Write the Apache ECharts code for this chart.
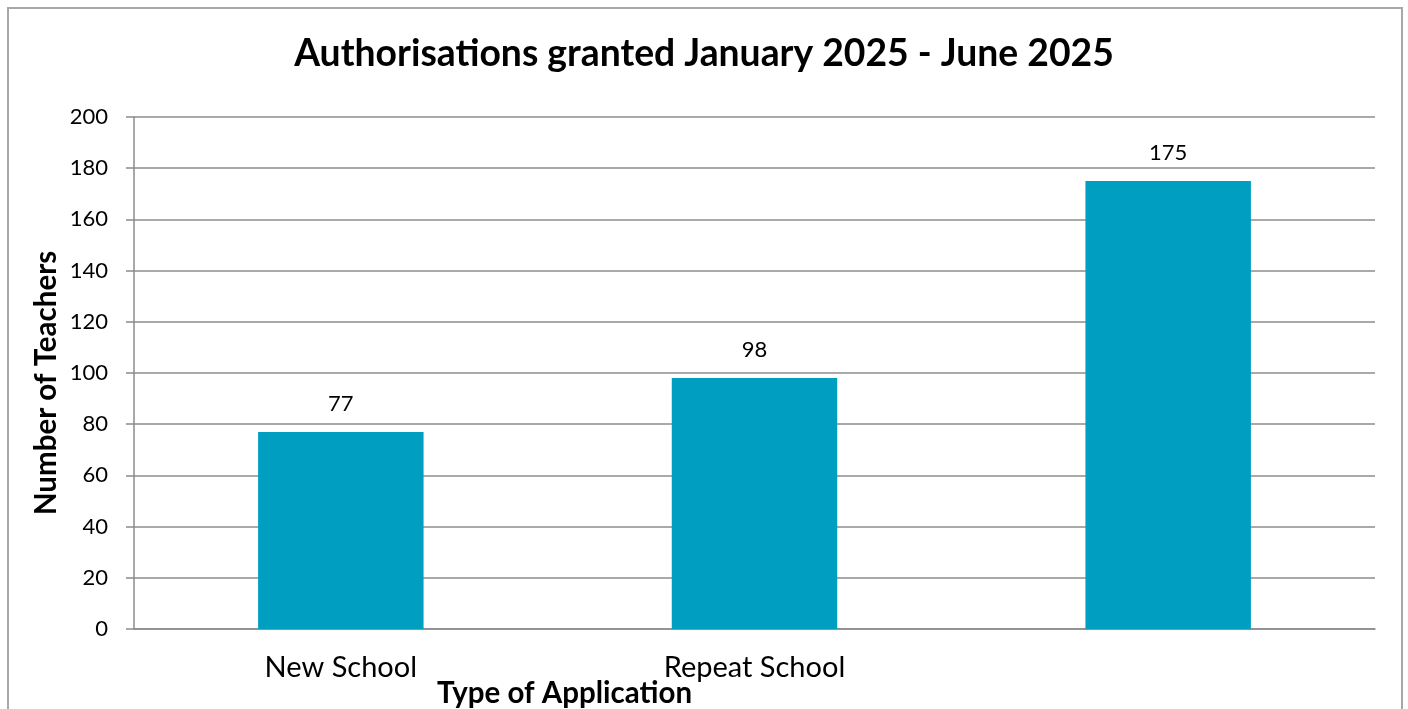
<!DOCTYPE html>
<html>
<head>
<meta charset="utf-8">
<script src="https://cdn.jsdelivr.net/npm/echarts@6/dist/echarts.min.js"></script>
<style>
  html, body { margin: 0; padding: 0; background: #fff; }
  #chart { width: 1408px; height: 709px; }
</style>
</head>
<body>
<div id="chart"></div>
<script>
// Application types and number of teachers authorised
const categories = ['New School', 'Repeat School', ''];
const teachers = [77, 98, 175];
const yTicks = { min: 0, max: 200, interval: 20 };

const FONT = 'Lato, "Open Sans", sans-serif';
const chart = echarts.init(document.getElementById('chart'));

chart.setOption({
  backgroundColor: '#ffffff',
  animation: false,
  title: [
    {
      text: 'Authorisations granted January 2025 - June 2025',
      left: 'center',
      top: 30,
      textStyle: { fontFamily: FONT, fontWeight: 'bold', fontSize: 37.3, color: '#000' }
    },
    {
      text: 'Type of Application',
      left: 432,
      top: 673,
      textStyle: { fontFamily: FONT, fontWeight: 'bold', fontSize: 29.5, color: '#000' }
    }
  ],
  graphic: [
    {
      type: 'rect',
      shape: { x: 8, y: 8, width: 1394, height: 720 },
      style: { fill: 'none', stroke: '#a8a8a8', lineWidth: 2 },
      silent: true
    }
  ],
  grid: { left: 134, right: 33, top: 117, bottom: 80 },
  xAxis: {
    type: 'category',
    data: categories,
    axisLine: { lineStyle: { color: '#8c8c8c', width: 1.5 } },
    axisTick: { show: false },
    axisLabel: { fontFamily: FONT, fontSize: 29, color: '#000', margin: 24 }
  },
  yAxis: {
    type: 'value',
    min: yTicks.min,
    max: yTicks.max,
    interval: yTicks.interval,
    name: 'Number of Teachers',
    nameLocation: 'middle',
    nameGap: 73,
    nameMoveOverlap: false,
    nameTextStyle: {
      fontFamily: FONT, fontWeight: 'bold', fontSize: 29.5, color: '#000',
      padding: [0, 20, 0, 0]
    },
    axisLine: { show: true, lineStyle: { color: '#8c8c8c', width: 1.5 } },
    axisTick: { show: true, length: 8, lineStyle: { color: '#8c8c8c', width: 1.5 } },
    axisLabel: { fontFamily: FONT, fontSize: 22, color: '#000', margin: 26 },
    splitLine: { lineStyle: { color: '#8c8c8c', width: 1.5 } }
  },
  series: [
    {
      type: 'bar',
      data: teachers,
      barWidth: '40%',
      itemStyle: { color: '#009fc2' },
      label: {
        show: true,
        position: 'top',
        distance: 17,
        fontFamily: FONT,
        fontSize: 22,
        color: '#000'
      }
    }
  ]
});
</script>
</body>
</html>
